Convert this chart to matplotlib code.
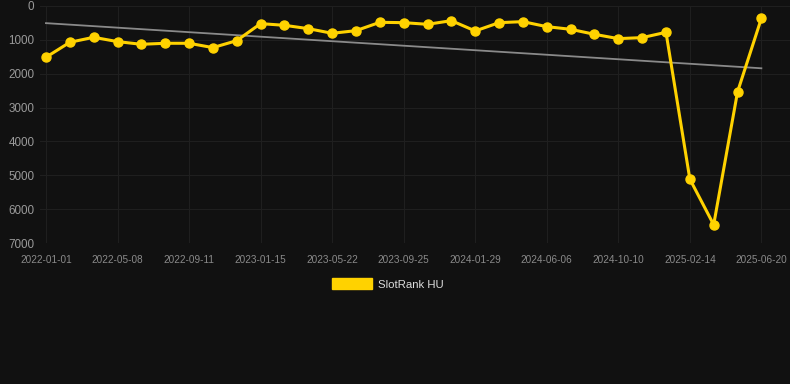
import matplotlib
matplotlib.use("Agg")
import matplotlib.pyplot as plt
from matplotlib.patches import Patch
import numpy as np

plt.rcParams["font.family"] = ["Liberation Sans", "DejaVu Sans"]

tick_labels = ["2022-01-01", "2022-05-08", "2022-09-11", "2023-01-15", "2023-05-22",
               "2023-09-25", "2024-01-29", "2024-06-06", "2024-10-10", "2025-02-14",
               "2025-06-20"]
rank_values = [1514, 1072, 924, 1052, 1131, 1101, 1101, 1229, 1023, 521,
               570, 669, 806, 728, 482, 492, 541, 433, 737, 492,
               462, 610, 688, 836, 964, 934, 777, 5113, 6460, 2537, 364]
series_name = "SlotRank HU"

bg = "#111111"
gold = "#FFD200"

fig = plt.figure(figsize=(7.9, 3.84), dpi=100, facecolor=bg)
ax = fig.add_axes([40/790, 1-243/384, 750/790, 237/384], facecolor=bg)

x = np.arange(len(rank_values))
y = np.array(rank_values, dtype=float)

coef = np.polyfit(x, y, 1)
ax.plot(x, np.polyval(coef, x), color="#8a8a8a", lw=1.3, zorder=2)
ax.plot(x, y, color=gold, lw=2.2, marker="o", markersize=6.5, zorder=3)

ax.set_ylim(7000, 0)
ax.set_xlim(-0.25, 31.2)
ax.set_yticks(range(0, 7001, 1000))
ax.set_xticks(x[::3])
ax.set_xticklabels(tick_labels)
ax.grid(True, color="#1f1f1f", lw=0.8)
ax.set_axisbelow(True)
for s in ax.spines.values():
    s.set_visible(False)
ax.tick_params(axis="y", length=0, pad=4, labelsize=8.4, labelcolor="#9a9a9a")
ax.tick_params(axis="x", length=0, pad=8.5, labelsize=7.2, labelcolor="#8a8a8a")

handle = Patch(facecolor=gold, edgecolor=gold)
fig.legend([handle], [series_name], loc="center", bbox_to_anchor=(388/790, 1-284/384),
           frameon=False, fontsize=8.2, labelcolor="#dddddd",
           handlelength=3.5, handleheight=1.1, handletextpad=0.55)

fig.savefig("out.png", dpi=100, facecolor=bg)
